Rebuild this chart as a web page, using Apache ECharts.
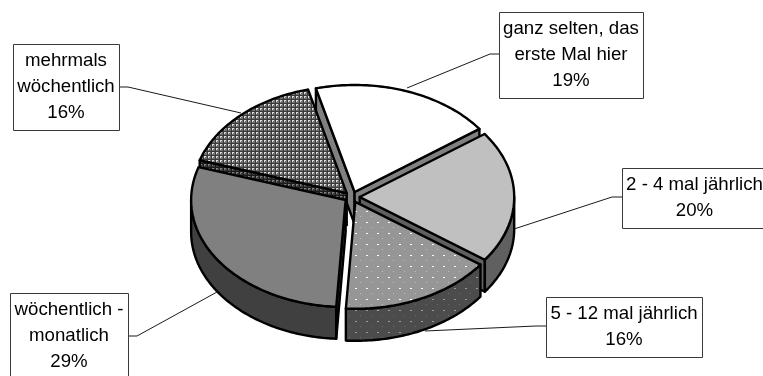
<!DOCTYPE html>
<html>
<head>
<meta charset="utf-8">
<title>Besuchshäufigkeit</title>
<style>html,body{margin:0;padding:0;background:#fff}#chart{width:763px;height:376px}</style>
<script src="https://cdn.jsdelivr.net/npm/echarts@6/dist/echarts.min.js"></script>
</head>
<body>
<div id="chart"></div>
<script>
// Visit frequency shares, clockwise from the top of the pie
const categories = [
  'ganz selten, das\nerste Mal hier',
  '2 - 4 mal jährlich',
  '5 - 12 mal jährlich',
  'wöchentlich -\nmonatlich',
  'mehrmals\nwöchentlich'
];
const shares = [19, 20, 16, 29, 16];

// Tilted-pie geometry
const pie = { cx: 352, cy: 197, rx: 154.5, ry: 107, depth: 32, explode: 7.7, startAngle: -14.5 };

// Back-to-front painting rank for each slice
const paintRank = [0, 2, 4, 3, 1];

// Callout boxes: [left, top, right, bottom], text centre, leader points
const callouts = [
  { box: [499, 12, 643, 98],    text: [571, 54.5],  leader: [[499, 54], [490, 54], [407, 88]] },
  { box: [622, 168, 770, 228],  text: [694.5, 198], leader: [[622, 197], [612, 197], [514, 229]] },
  { box: [546, 297, 702, 357],  text: [624, 327],   leader: [[546, 326], [536, 326], [425, 331]] },
  { box: [10, 293, 128, 382],   text: [69, 336],    leader: [[128, 336], [137, 336], [217, 292]] },
  { box: [13, 44, 119, 130],    text: [66, 87],     leader: [[119, 87], [128, 87], [241, 113]] }
];

// Small repeating fill tiles used for the hatched slices
function tile(size, paint) {
  const c = document.createElement('canvas');
  c.width = c.height = size;
  paint(c.getContext('2d'));
  return { image: c, repeat: 'repeat' };
}
function dots(base, strong, faint) {
  return tile(11, g => {
    g.fillStyle = base; g.fillRect(0, 0, 11, 11);
    g.fillStyle = strong; g.fillRect(3, 2, 2, 1);
    g.fillStyle = faint; g.fillRect(8, 7, 1, 1);
  });
}
function weave(base, line, spot) {
  return tile(4, g => {
    g.fillStyle = base; g.fillRect(0, 0, 4, 4);
    g.fillStyle = line; g.fillRect(3, 0, 1, 4); g.fillRect(0, 3, 4, 1);
    g.fillStyle = spot; g.fillRect(0, 0, 2, 1); g.fillRect(0, 1, 1, 1);
  });
}

const topFills = ['#ffffff', '#c0c0c0', dots('#969696', '#ffffff', '#bcbcbc'), '#808080', weave('#707070', '#3a3a3a', '#dcdcdc')];
const sideFills = ['#808080', '#606060', dots('#4c4c4c', '#9a9a9a', '#6c6c6c'), '#404040', weave('#3c3c3c', '#1c1c1c', '#808080')];
const outline = { stroke: '#000', lineWidth: 2.4, lineJoin: 'round' };

const total = shares.reduce((a, b) => a + b, 0);
const rad = d => d * Math.PI / 180;

function sliceSpan(i) {
  let from = pie.startAngle;
  for (let k = 0; k < i; k++) from += shares[k] / total * 360;
  return [from, from + shares[i] / total * 360];
}

function renderSlice(params, api) {
  const i = params.dataIndex;
  const value = api.value(0);
  const [a0, a1] = sliceSpan(i);
  const mid = rad((a0 + a1) / 2);
  const tx = pie.cx + pie.explode * Math.sin(mid);
  const ty = pie.cy - pie.explode * (pie.ry / pie.rx) * Math.cos(mid);
  const rim = (deg, dy) => [tx + pie.rx * Math.sin(rad(deg)), ty - pie.ry * Math.cos(rad(deg)) + (dy || 0)];
  const z = paintRank[i] * 10 + 1;
  const children = [];

  const face = (points, fill, order) => children.push({
    type: 'polygon', shape: { points }, z2: z + order,
    style: Object.assign({ fill }, outline)
  });

  // Cut faces turned towards the viewer
  const cut = deg => [[tx, ty], rim(deg), rim(deg, pie.depth), [tx, ty + pie.depth]];
  if (Math.sin(rad(a0)) < 0) face(cut(a0), sideFills[i], 0);
  if (Math.sin(rad(a1)) > 0) face(cut(a1), sideFills[i], 0);

  // Outer wall, front half of the ellipse only
  const w0 = Math.max(a0, 90), w1 = Math.min(a1, 270);
  if (w1 > w0) {
    const upper = [], lower = [];
    for (let d = w0; d < w1; d += 1) { upper.push(rim(d)); lower.unshift(rim(d, pie.depth)); }
    upper.push(rim(w1)); lower.unshift(rim(w1, pie.depth));
    face(upper.concat(lower), sideFills[i], 1);
  }

  // Top surface
  const top = [[tx, ty]];
  for (let d = a0; d < a1; d += 1) top.push(rim(d));
  top.push(rim(a1));
  face(top, topFills[i], 2);

  // Callout with leader line
  const c = callouts[i];
  children.push({
    type: 'polyline', shape: { points: c.leader }, z2: 100,
    style: { stroke: '#1a1a1a', lineWidth: 1, fill: null }
  });
  children.push({
    type: 'rect', z2: 101,
    shape: { x: c.box[0] + 0.5, y: c.box[1] + 0.5, width: c.box[2] - c.box[0], height: c.box[3] - c.box[1] },
    style: { fill: '#fff', stroke: '#3a3a3a', lineWidth: 1 }
  });
  children.push({
    type: 'text', z2: 102, x: c.text[0], y: c.text[1],
    style: {
      text: categories[i] + '\n' + value + '%',
      font: '18.67px "Liberation Sans", Arial, sans-serif',
      fill: '#000', align: 'center', verticalAlign: 'middle', lineHeight: 26
    }
  });
  return { type: 'group', children };
}

const chart = echarts.init(document.getElementById('chart'), null, { renderer: 'canvas' });
chart.setOption({
  animation: false,
  backgroundColor: '#fff',
  series: [{
    type: 'custom',
    coordinateSystem: 'none',
    renderItem: renderSlice,
    data: shares.map((v, i) => ({ name: categories[i], value: [v] })),
    silent: true
  }]
});
</script>
</body>
</html>
